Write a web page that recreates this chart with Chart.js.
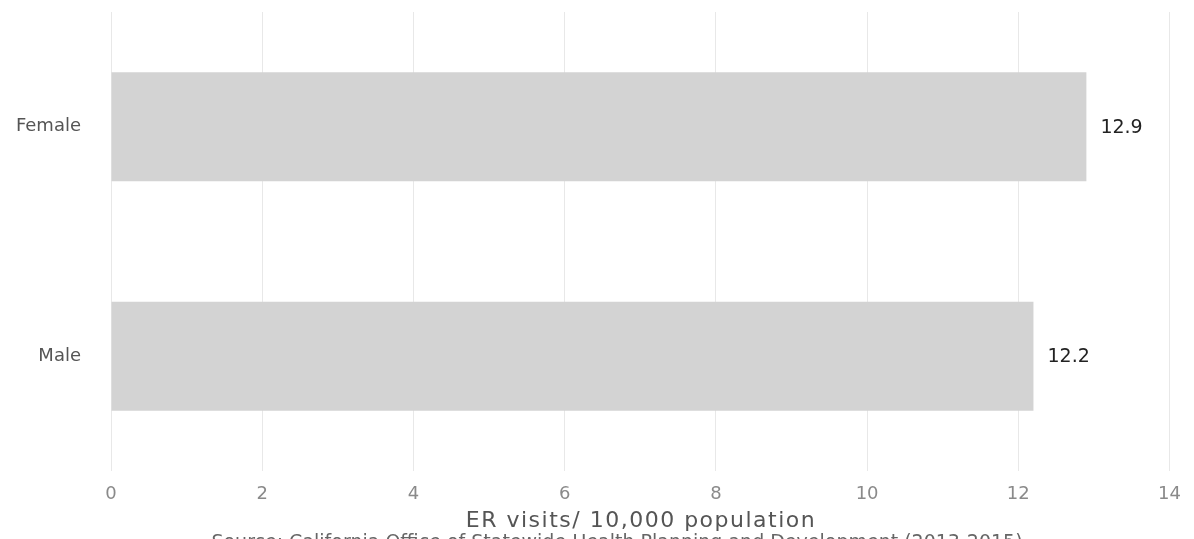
<!DOCTYPE html>
<html>
<head>
<meta charset="utf-8">
<script src="https://cdn.jsdelivr.net/npm/chart.js@4/dist/chart.umd.min.js"></script>
<style>
  html, body { margin: 0; padding: 0; background: #fff; }
  #wrap { width: 1194px; height: 539px; overflow: hidden; }
</style>
</head>
<body>
<div id="wrap"><canvas id="chart" width="1194" height="539"></canvas></div>
<script>
// Chart data
const categories = ['Female', 'Male'];
const visitRates = [12.9, 12.2];
const xTicks = [0, 2, 4, 6, 8, 10, 12, 14];

const axisTitle = 'ER visits/ 10,000 population';
const sourceText = 'Source: California Office of Statewide Health Planning and Development (2013-2015)';

// Value labels at the end of each bar
const valueLabels = {
  id: 'valueLabels',
  afterDatasetsDraw(chart) {
    const ctx = chart.ctx;
    const meta = chart.getDatasetMeta(0);
    ctx.save();
    ctx.font = '19px "DejaVu Sans"';
    ctx.fillStyle = '#222';
    ctx.textAlign = 'left';
    ctx.textBaseline = 'middle';
    meta.data.forEach((bar, i) => {
      ctx.fillText(visitRates[i].toFixed(1), bar.x + 14, bar.y + 1);
    });
    ctx.restore();
  }
};

// Axis title and the source line (cut off at the bottom like the original)
const bottomText = {
  id: 'bottomText',
  afterDraw(chart) {
    const ctx = chart.ctx;
    ctx.save();
    ctx.textAlign = 'center';
    ctx.textBaseline = 'middle';
    ctx.letterSpacing = '1.5px';
    ctx.font = '22px "DejaVu Sans"';
    ctx.fillStyle = '#555';
    ctx.fillText(axisTitle, 641, 521);
    ctx.letterSpacing = '0px';
    ctx.font = '19px "DejaVu Sans"';
    ctx.fillStyle = '#666';
    ctx.textBaseline = 'top';
    ctx.fillText(sourceText, 617, 534);
    ctx.restore();
  }
};

new Chart(document.getElementById('chart'), {
  type: 'bar',
  data: {
    labels: categories,
    datasets: [{
      data: visitRates,
      backgroundColor: '#d3d3d3',
      borderWidth: 0,
      barPercentage: 0.95,
      categoryPercentage: 0.5
    }]
  },
  options: {
    indexAxis: 'y',
    responsive: false,
    animation: false,
    layout: { padding: { left: 0, right: 20, top: 12, bottom: 0 } },
    plugins: {
      legend: { display: false },
      tooltip: { enabled: false }
    },
    scales: {
      x: {
        min: 0,
        max: 14,
        afterBuildTicks(scale) {
          scale.ticks = xTicks.map(v => ({ value: v }));
        },
        afterFit(scale) { scale.height = 68; },
        grid: { color: '#e8e8e8', drawTicks: false },
        border: { display: false },
        ticks: {
          padding: 13,
          color: '#8a8a8a',
          font: { family: 'DejaVu Sans', size: 18 }
        }
      },
      y: {
        grid: { display: false, drawTicks: false },
        border: { display: false },
        afterFit(scale) {
          scale.width = 111;
          scale.paddingTop = 0;
          scale.paddingBottom = 0;
        },
        ticks: {
          padding: 30,
          color: '#555',
          font: { family: 'DejaVu Sans', size: 18 }
        }
      }
    }
  },
  plugins: [valueLabels, bottomText]
});
</script>
</body>
</html>
